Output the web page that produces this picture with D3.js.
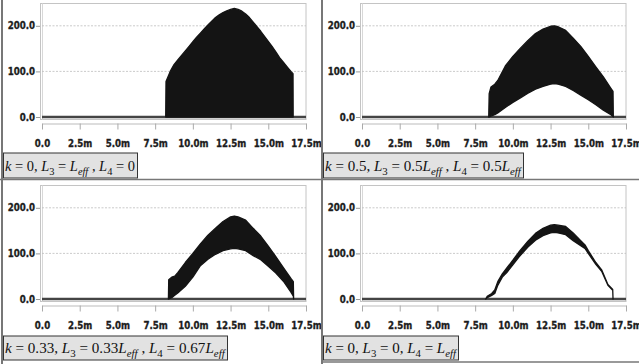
<!DOCTYPE html>
<html>
<head>
<meta charset="utf-8">
<script src="https://cdn.jsdelivr.net/npm/d3@7"></script>
<style>
  body { margin: 0; background: #fff; }
  svg { display: block; }
</style>
</head>
<body>
<svg id="container"></svg>
<script>
// axis ticks shared by all four panels
const xTicks = [0, 2.5, 5, 7.5, 10, 12.5, 15, 17.5];
const xTickLabels = ["0.0", "2.5m", "5.0m", "7.5m", "10.0m", "12.5m", "15.0m", "17.5m"];
const yTicks = [0, 100, 200];
const yTickLabels = ["0.0", "100.0", "200.0"];

// panel captions (_ marks a subscript)
const captions = [
  "k = 0, L_3 = L_eff , L_4 = 0",
  "k = 0.5, L_3 = 0.5L_eff , L_4 = 0.5L_eff",
  "k = 0.33, L_3 = 0.33L_eff , L_4 = 0.67L_eff",
  "k = 0, L_3 = 0, L_4 = L_eff"
];
const captionWidths = [130, 196, 220, 131];

// panel 1 : k = 0, L3 = Leff  (oscillates down to 0)
const pos1 = [8.2, 8.22, 8.5, 8.75, 9.0, 9.25, 9.5, 9.75, 10.0, 10.25, 10.5, 10.75, 11.0, 11.25, 11.5, 11.75,
              12.0, 12.25, 12.5, 12.75, 13.0, 13.25, 13.5, 13.75, 14.0, 14.25, 14.5, 14.75, 15.0, 15.25,
              15.5, 15.75, 16.0, 16.25, 16.5, 16.64, 16.65];
const hi1 = [0, 78, 100, 115, 125, 135, 145, 155, 165, 175, 184, 193, 202, 210, 218, 224,
             229, 233, 236, 238, 236, 232, 226, 218, 208, 198, 188, 177, 166, 155,
             143, 130, 120, 110, 100, 95, 0];
const lo1 = pos1.map(() => 0);

// panel 2 : k = 0.5
const pos2 = [8.4, 8.43, 8.55, 8.8, 9.0, 9.5, 10.0, 10.5, 11.0, 11.5, 12.0, 12.5, 12.75, 13.0, 13.5,
              14.0, 14.5, 15.0, 15.5, 16.0, 16.5, 16.64, 16.66];
const hi2 = [0, 51, 66, 72, 80, 112, 133, 151, 168, 183, 193, 199, 200, 198, 190,
             173, 155, 133, 110, 88, 63, 56, 0];
const lo2 = [0, 0, 2, 5, 9, 21, 32, 42, 52, 61, 67, 72, 73, 72, 67,
             58, 48, 38, 27, 15, 5, 1, 0];

// panel 3 : k = 0.33
const pos3 = [8.38, 8.4, 8.6, 8.8, 9.0, 9.5, 10.0, 10.5, 11.0, 11.5, 12.0, 12.5, 12.75, 13.0, 13.5,
              14.0, 14.5, 15.0, 15.5, 16.0, 16.5, 16.66, 16.68];
const hi3 = [0, 42, 48, 50, 58, 80, 100, 121, 140, 155, 170, 180, 182, 180, 173,
             155, 138, 116, 93, 69, 45, 38, 0];
const lo3 = [0, 0, 3, 8, 13, 28, 48, 73, 87, 98, 106, 110, 111, 110, 106,
             95, 86, 72, 57, 39, 15, 6, 0];

// panel 4 : k = 0, L4 = Leff  (narrow band)
const pos4 = [8.2, 8.3, 8.6, 8.8, 9.0, 9.3, 9.6, 10.0, 10.4, 11.0, 11.5, 12.0, 12.5, 12.75, 13.0, 13.5,
              14.0, 14.5, 14.8, 15.0, 15.5, 15.9, 16.3, 16.62, 16.64];
const hi4 = [0, 6, 12, 20, 38, 55, 68, 85, 103, 127, 144, 155, 162, 163, 162, 159,
             145, 128, 118, 106, 80, 63, 32, 21, 0];
const lo4 = [0, 3, 8, 12, 30, 48, 58, 75, 92, 114, 129, 139, 145, 146, 145, 141,
             128, 117, 110, 100, 76, 60, 30, 19, 0];

const series = [
  {pos: pos1, hi: hi1, lo: lo1},
  {pos: pos2, hi: hi2, lo: lo2},
  {pos: pos3, hi: hi3, lo: lo3},
  {pos: pos4, hi: hi4, lo: lo4}
];

let width = 639, height = 364;
let svg = d3.select("#container")
    .attr("width", width)
    .attr("height", height)
    .attr("viewBox", "0 0 " + width + " " + height);

const offsets = [[0, 0], [320, 0], [0, 182], [320, 182]];
const tickFont = "'Liberation Sans Narrow', 'DejaVu Sans Condensed', Arial, sans-serif";
const mathFont = "'Liberation Serif', 'DejaVu Serif', serif";

function styleTicks(sel) {
  sel.style("font-family", tickFont).style("font-weight", "bold")
    .style("font-size", "9.6px").attr("fill", "#1c1c1c")
    .attr("stroke", "#1c1c1c").attr("stroke-width", 0.3);
}

// write a caption with italic letters and subscripts at font size fs
function writeCaption(txt, str, fs) {
  txt.selectAll("tspan").remove();
  txt.style("font-size", fs + "px");
  const shift = fs * 0.28;
  const tokens = str.match(/_[A-Za-z0-9]+|[A-Za-z]+|[^A-Za-z_]+/g);
  let sub = false;
  tokens.forEach(t => {
    if (t.startsWith("_")) {
      const body = t.slice(1);
      txt.append("tspan")
        .attr("dy", shift)
        .style("font-size", (fs * 0.72) + "px")
        .style("font-style", /\d/.test(body) ? "normal" : "italic")
        .text(body);
      sub = true;
    } else {
      const ts = txt.append("tspan")
        .style("font-style", /[A-Za-z]/.test(t) ? "italic" : "normal")
        .text(t);
      if (sub) { ts.attr("dy", -shift); sub = false; }
    }
  });
}

offsets.forEach(([ox, oy], i) => {
  const g = svg.append("g");
  const s = series[i];

  const xScale = d3.scaleLinear().domain([0, 17.5]).range([ox + 42, ox + 306]);
  const yScale = d3.scaleLinear().domain([0, 250]).range([oy + 117, oy + 3]);

  // plot frame
  g.append("rect")
    .attr("x", ox + 40.5).attr("y", oy + 3.5)
    .attr("width", 265.5).attr("height", 116)
    .attr("fill", "none").attr("stroke", "#c4c4c4");
  g.append("line")
    .attr("x1", ox + 42.5).attr("x2", ox + 42.5)
    .attr("y1", oy + 3.5).attr("y2", oy + 119.5)
    .attr("stroke", "#d8d8d8");

  // gridlines
  g.append("g").selectAll("line")
    .data(yTicks.filter(d => d > 0))
    .enter().append("line")
      .attr("x1", ox + 42).attr("x2", ox + 306)
      .attr("y1", d => yScale(d)).attr("y2", d => yScale(d))
      .attr("stroke", "#bdbdbd")
      .attr("stroke-dasharray", "2,1.5")
      .attr("stroke-width", 0.8);

  // y axis
  const yAxis = g.append("g")
    .attr("transform", "translate(" + (ox + 40) + ",0)")
    .call(d3.axisLeft(yScale).tickValues(yTicks)
      .tickFormat((d, k) => yTickLabels[k]).tickSize(4).tickPadding(1));
  yAxis.select(".domain").remove();
  yAxis.selectAll(".tick line").attr("stroke", "#999");
  styleTicks(yAxis.selectAll("text"));

  // x axis
  const xAxis = g.append("g")
    .attr("transform", "translate(0," + (oy + 123.5) + ")")
    .call(d3.axisBottom(xScale).tickValues(xTicks)
      .tickFormat((d, k) => xTickLabels[k]).tickSize(6).tickSizeOuter(0).tickPadding(11));
  xAxis.select(".domain").attr("stroke", "#bbb");
  xAxis.selectAll(".tick line").attr("stroke", "#aaa");
  styleTicks(xAxis.selectAll("text"));

  // baseline at zero
  g.append("line")
    .attr("x1", ox + 42).attr("x2", ox + 306)
    .attr("y1", yScale(0)).attr("y2", yScale(0))
    .attr("stroke", "#444").attr("stroke-width", 2.5);

  // oscillation band
  const area = d3.area()
    .x((d, k) => xScale(s.pos[k]))
    .y0((d, k) => yScale(s.lo[k]))
    .y1((d, k) => yScale(s.hi[k]));
  g.append("path")
    .datum(s.pos)
    .attr("d", area)
    .attr("fill", "#141414")
    .attr("stroke", "#141414")
    .attr("stroke-width", 1.3)
    .attr("stroke-linejoin", "round");

  // caption box
  const cap = g.append("g");
  const txt = cap.append("text")
    .attr("x", ox + 5)
    .attr("y", oy + (i < 2 ? 171 : 170.5))
    .style("font-family", mathFont)
    .attr("fill", "#111");
  writeCaption(txt, captions[i], 16);
  // fit caption to the box width seen in the figure
  const natural = txt.node().getComputedTextLength();
  writeCaption(txt, captions[i], 16 * captionWidths[i] / natural);
  cap.insert("rect", "text")
    .attr("x", ox + 3.5).attr("y", oy + (i < 2 ? 153 : 154))
    .attr("width", captionWidths[i] + 4)
    .attr("height", i < 2 ? 25 : 24)
    .attr("fill", "#e2e2e2")
    .attr("stroke", "#333");
});

// outer frame / dividers
const frame = svg.append("g").attr("stroke", "#777");
frame.append("line").attr("x1", 2).attr("x2", 2).attr("y1", 0).attr("y2", height).attr("stroke-width", 2);
frame.append("line").attr("x1", 322).attr("x2", 322).attr("y1", 0).attr("y2", height).attr("stroke-width", 2);
frame.append("line").attr("x1", 0).attr("x2", width).attr("y1", 179.5).attr("y2", 179.5).attr("stroke-width", 1.5);
frame.append("line").attr("x1", 322).attr("x2", width).attr("y1", 362).attr("y2", 362).attr("stroke-width", 1.5);
</script>
</body>
</html>
